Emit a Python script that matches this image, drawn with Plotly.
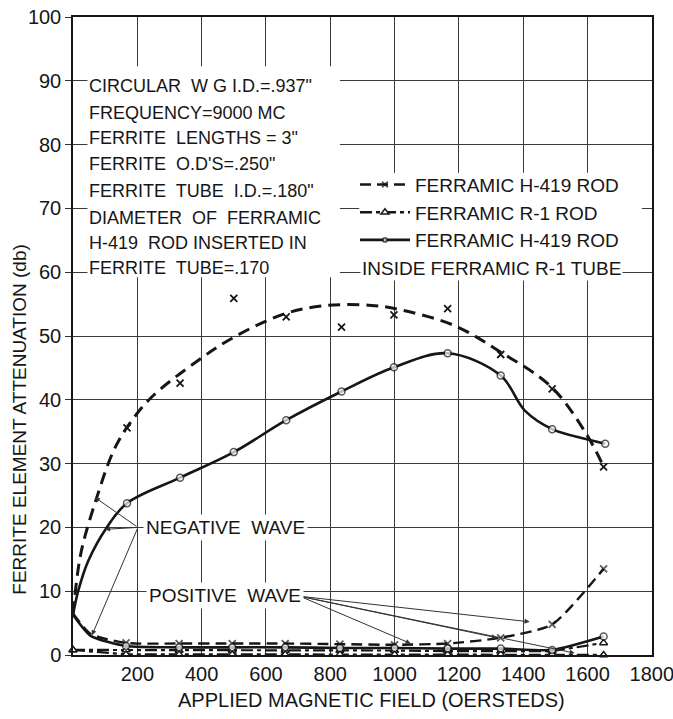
import plotly.graph_objects as go

# ---------------- data ----------------
# Ferramic H-419 rod, negative wave: fitted dashed curve and measured points
h419_rod_neg_curve_x = [0, 5, 26, 74, 126, 171, 244, 390, 500, 659, 793, 927, 1000, 1183, 1329, 1488, 1598, 1652]
h419_rod_neg_curve_y = [6.5, 9.0, 16.3, 24.7, 32.0, 35.9, 40.4, 46.2, 49.8, 53.5, 54.8, 54.8, 54.3, 51.7, 47.5, 42.0, 34.5, 29.3]
h419_rod_neg_x = [168, 333, 500, 663, 835, 998, 1165, 1330, 1490, 1650]
h419_rod_neg_y = [35.6, 42.6, 55.9, 53.0, 51.4, 53.3, 54.3, 47.1, 41.7, 29.5]

# Ferramic H-419 rod inside Ferramic R-1 tube, negative wave (solid, circles)
h419_tube_neg_x = [0, 16, 47, 105, 168, 333, 500, 663, 835, 998, 1165, 1330, 1405, 1490, 1598, 1655]
h419_tube_neg_y = [6.3, 10.0, 14.7, 20.0, 23.8, 27.8, 31.8, 36.8, 41.3, 45.1, 47.3, 43.8, 38.3, 35.4, 33.8, 33.1]
h419_tube_neg_measured = [0, 0, 0, 0, 1, 1, 1, 1, 1, 1, 1, 1, 0, 1, 0, 1]

# Positive wave curves (near the bottom)
h419_rod_pos_x = [0, 55, 165, 330, 495, 660, 830, 1000, 1165, 1330, 1490, 1650]
h419_rod_pos_y = [6.5, 3.3, 1.9, 1.8, 1.8, 1.8, 1.7, 1.6, 1.8, 2.7, 4.8, 13.5]
h419_rod_pos_measured = [0, 0, 1, 1, 1, 1, 1, 1, 1, 1, 1, 1]

h419_tube_pos_x = [0, 55, 165, 330, 495, 660, 830, 1000, 1165, 1330, 1490, 1650]
h419_tube_pos_y = [6.3, 3.0, 1.4, 1.2, 1.2, 1.2, 1.1, 1.1, 1.0, 1.0, 0.8, 2.9]
h419_tube_pos_measured = [0, 0, 1, 1, 1, 1, 1, 1, 1, 1, 1, 1]

r1_x = [0, 165, 330, 495, 660, 830, 1000, 1165, 1330, 1490, 1650]
r1_neg_y = [0.8, 0.8, 0.7, 0.7, 0.7, 0.7, 0.7, 0.6, 0.6, 0.6, 1.9]
r1_pos_y = [0.8, 0.1, 0.1, 0.1, 0.1, 0.1, 0.1, 0.1, 0.1, 0.1, 0.0]

x_ticks = [200, 400, 600, 800, 1000, 1200, 1400, 1600, 1800]
y_ticks = [0, 10, 20, 30, 40, 50, 60, 70, 80, 90, 100]

info_lines = [
    'CIRCULAR  W G I.D.=.937"',
    'FREQUENCY=9000 MC',
    'FERRITE  LENGTHS = 3"',
    "FERRITE  O.D'S=.250\"",
    'FERRITE  TUBE  I.D.=.180"',
    'DIAMETER  OF  FERRAMIC',
    'H-419  ROD INSERTED IN',
    'FERRITE  TUBE=.170',
]
info_y = [89.2, 85.0, 81.0, 76.9, 72.7, 68.5, 64.6, 60.7]

legend_names = ["FERRAMIC H-419 ROD", "FERRAMIC R-1 ROD", "FERRAMIC H-419 ROD"]
legend_extra = "INSIDE FERRAMIC R-1 TUBE"

# ---------------- styling ----------------
FONT = "Liberation Sans"
INK = "#161616"
MS = 7

def sizes(flags):
    return [MS if f else 0 for f in flags]

fig = go.Figure()

# H-419 rod negative: dashed fitted curve
fig.add_trace(go.Scatter(x=h419_rod_neg_curve_x, y=h419_rod_neg_curve_y, mode="lines",
                         line=dict(color=INK, width=3, dash="12px,7px", shape="spline"),
                         showlegend=False, hoverinfo="skip"))
fig.add_trace(go.Scatter(x=h419_rod_neg_x, y=h419_rod_neg_y, mode="markers",
                         marker=dict(symbol="x-thin-open", size=MS, color=INK, line=dict(color=INK, width=1.8)),
                         showlegend=False))

# H-419 rod positive (legend entry 1)
fig.add_trace(go.Scatter(x=h419_rod_pos_x, y=h419_rod_pos_y, mode="lines+markers",
                         name=legend_names[0], legendrank=1,
                         line=dict(color=INK, width=2.4, dash="11px,6px", shape="spline", smoothing=0.6),
                         marker=dict(symbol="x-thin-open", size=sizes(h419_rod_pos_measured), color=INK,
                                     line=dict(color=INK, width=1.8)),
                         cliponaxis=False))

# R-1 rod negative and positive (legend entry 2)
fig.add_trace(go.Scatter(x=r1_x, y=r1_neg_y, mode="lines+markers", showlegend=False,
                         line=dict(color=INK, width=2.2, dash="12px,4px,4px,4px"),
                         marker=dict(symbol="triangle-up", size=MS, color="white",
                                     line=dict(color=INK, width=1.5)),
                         cliponaxis=False))
fig.add_trace(go.Scatter(x=r1_x, y=r1_pos_y, mode="lines+markers",
                         name=legend_names[1], legendrank=2,
                         line=dict(color=INK, width=2.4, dash="12px,4px,4px,4px"),
                         marker=dict(symbol="triangle-up", size=MS, color="white",
                                     line=dict(color=INK, width=1.5)),
                         cliponaxis=False))

# H-419 in R-1 tube positive
fig.add_trace(go.Scatter(x=h419_tube_pos_x, y=h419_tube_pos_y, mode="lines+markers", showlegend=False,
                         line=dict(color=INK, width=2.6, shape="spline", smoothing=0.6),
                         marker=dict(symbol="circle", size=sizes(h419_tube_pos_measured), color="white",
                                     line=dict(color=INK, width=1.5)),
                         cliponaxis=False))

# H-419 in R-1 tube negative (legend entry 3)
fig.add_trace(go.Scatter(x=h419_tube_neg_x, y=h419_tube_neg_y, mode="lines+markers",
                         name=legend_names[2], legendrank=3,
                         line=dict(color=INK, width=2.6, shape="spline"),
                         marker=dict(symbol="circle", size=sizes(h419_tube_neg_measured), color="white",
                                     line=dict(color=INK, width=1.5))))

# ---------------- annotations ----------------
ann = []
for t, yv in zip(info_lines, info_y):
    ann.append(dict(x=45, y=yv, xref="x", yref="y", text=t, showarrow=False,
                    xanchor="left", yanchor="middle", font=dict(family=FONT, size=18, color=INK)))

ann.append(dict(x=892, y=60.6, xref="x", yref="y", text=legend_extra, showarrow=False,
                xanchor="left", yanchor="middle", bgcolor="white", borderpad=1,
                font=dict(family=FONT, size=19, color=INK)))

# wave labels
lab_font = dict(family=FONT, size=19, color=INK)
neg_tail = (202, 20.0)
pos_tail = (706, 9.2)
for tx, ty in [(68, 24.7), (100, 19.7), (59, 3.1)]:
    ann.append(dict(x=tx, y=ty, ax=neg_tail[0], ay=neg_tail[1], xref="x", yref="y", axref="x", ayref="y",
                    text="", showarrow=True, arrowhead=2, arrowsize=1, arrowwidth=1, arrowcolor="#333",
                    standoff=0))
for tx, ty in [(1420, 5.2), (1318, 2.7), (1050, 1.8), (1560, 0.3)]:
    ann.append(dict(x=tx, y=ty, ax=pos_tail[0], ay=pos_tail[1], xref="x", yref="y", axref="x", ayref="y",
                    text="", showarrow=True, arrowhead=2, arrowsize=1, arrowwidth=1, arrowcolor="#333",
                    standoff=0))
ann.append(dict(x=218, y=20.0, xref="x", yref="y", text="NEGATIVE  WAVE", showarrow=False,
                xanchor="left", yanchor="middle", bgcolor="white", borderpad=2, font=lab_font))
ann.append(dict(x=227, y=9.4, xref="x", yref="y", text="POSITIVE  WAVE", showarrow=False,
                xanchor="left", yanchor="middle", bgcolor="white", borderpad=2, font=lab_font))

# axis titles
ann.append(dict(x=0.515, y=-0.071, xref="paper", yref="paper", text="APPLIED MAGNETIC FIELD (OERSTEDS)",
                showarrow=False, xanchor="center", yanchor="middle",
                font=dict(family=FONT, size=20, color=INK)))
ann.append(dict(x=-0.092, y=0.37, xref="paper", yref="paper", text="FERRITE ELEMENT ATTENUATION (db)",
                showarrow=False, textangle=-90, xanchor="center", yanchor="middle",
                font=dict(family=FONT, size=19, color=INK)))

# white panels behind the text blocks (cover grid, stay below traces)
shapes = [
    dict(type="rect", xref="x", yref="y", x0=45, x1=830, y0=59.2, y1=92.3,
         fillcolor="white", line=dict(width=0), layer="between"),
    dict(type="rect", xref="x", yref="y", x0=890, x1=1769, y0=61.6, y1=75.6,
         fillcolor="white", line=dict(width=0), layer="between"),
]

axis_common = dict(showgrid=True, gridcolor="#3a3a3a", gridwidth=1, showline=True, linecolor=INK,
                   linewidth=1.5, mirror=True, zeroline=False, automargin=False,
                   tickfont=dict(family=FONT, size=20, color=INK))

fig.update_layout(
    width=673, height=719,
    margin=dict(l=73, r=21, t=17, b=64),
    plot_bgcolor="white", paper_bgcolor="white",
    xaxis=dict(range=[0, 1800.5], tickvals=x_ticks, ticktext=[str(v) for v in x_ticks], ticks="",
               ticklabeloverflow="allow", **axis_common),
    yaxis=dict(range=[0, 100], tickvals=y_ticks, ticktext=[str(v) for v in y_ticks], ticks="outside",
               ticklen=6, tickcolor="#333", **axis_common),
    legend=dict(x=0.487, y=0.767, xanchor="left", yanchor="top", bgcolor="rgba(0,0,0,0)",
                borderwidth=0, itemwidth=50, font=dict(family=FONT, size=19, color=INK),
                traceorder="normal"),
    annotations=ann,
    shapes=shapes,
    showlegend=True,
)

fig.write_html("out.html")
